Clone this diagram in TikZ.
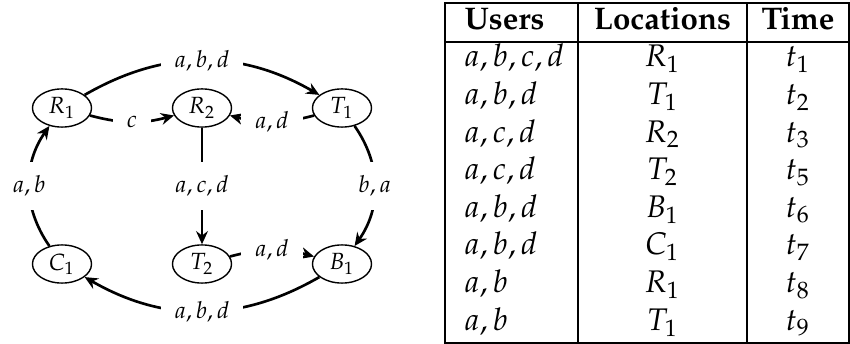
\documentclass[tikz,border=0pt]{standalone}
\usepackage[T1]{fontenc}
\usepackage{mathpazo}
\usetikzlibrary{arrows.meta,shapes.geometric}
\begin{document}
\begin{tikzpicture}[x=0.32pt,y=0.32pt,
  state/.style={ellipse,draw,line width=0.45pt,minimum width=18.9pt,minimum height=12.2pt,inner sep=0pt,font=\fontsize{7.5}{9}\selectfont},
  edge/.style={line width=0.85pt,-{Stealth[length=4.2pt,width=3.8pt,inset=1.4pt]}},
  lbl/.style={fill=white,inner sep=4.5pt,font=\fontsize{7.5}{9}\selectfont},
  cell/.style={anchor=base,inner sep=0pt,font=\fontsize{10}{12}\selectfont},
  tabrule/.style={line width=0.45pt}]
\useasboundingbox (0,0) rectangle (850,-344);
% graph
\node[state] (R1) at (62,-108) {$R_1$};
\node[state] (R2) at (202,-108) {$R_2$};
\node[state] (T1) at (342,-108) {$T_1$};
\node[state] (C1) at (62,-264) {$C_1$};
\node[state] (T2) at (202,-264) {$T_2$};
\node[state] (B1) at (342,-264) {$B_1$};
\draw[edge] (R1) to[bend left=30] node[lbl] {$a,b,d$} (T1);
\draw[edge] (T1) to[bend left=35] node[lbl] {$b,a$} (B1);
\draw[edge] (B1) to[bend left=30] node[lbl] {$a,b,d$} (C1);
\draw[edge] (C1) to[bend left=35] node[lbl] {$a,b$} (R1);
\draw[edge] (R1) to[bend right=15] node[lbl] {$c$} (R2);
\draw[edge] (T1) to[bend left=15] node[lbl] {$a,d$} (R2);
\draw[edge] (R2) -- node[lbl] {$a,c,d$} (T2);
\draw[edge] (T2) to[bend left=15] node[lbl] {$a,d$} (B1);
% table
\draw[tabrule] (445,-3) rectangle (849,-343);
\draw[tabrule] (445,-42) -- (849,-42);
\draw[tabrule] (578,-3) -- (578,-343);
\draw[tabrule] (747,-3) -- (747,-343);
\node[cell,anchor=base west] (hu) at (464,-30) {\textbf{Users}};
\node[cell] (hl) at (662.5,-30) {\textbf{Locations}};
\node[cell] (ht) at (798,-30) {\textbf{Time}};
\foreach \u/\l/\t [count=\i] in {{a,b,c,d}/R_1/t_1,{a,b,d}/T_1/t_2,{a,c,d}/R_2/t_3,{a,c,d}/T_2/t_5,{a,b,d}/B_1/t_6,{a,b,d}/C_1/t_7,{a,b}/R_1/t_8,{a,b}/T_1/t_9}{
  \pgfmathsetmacro{\yy}{-(42+37.6*(\i-1)+25)}
  \node[cell,anchor=base west] (u\i) at (464,\yy) {$\u$};
  \node[cell] (l\i) at (662.5,\yy) {$\l$};
  \node[cell] (t\i) at (798,\yy) {$\t$};
}
\end{tikzpicture}
\end{document}
